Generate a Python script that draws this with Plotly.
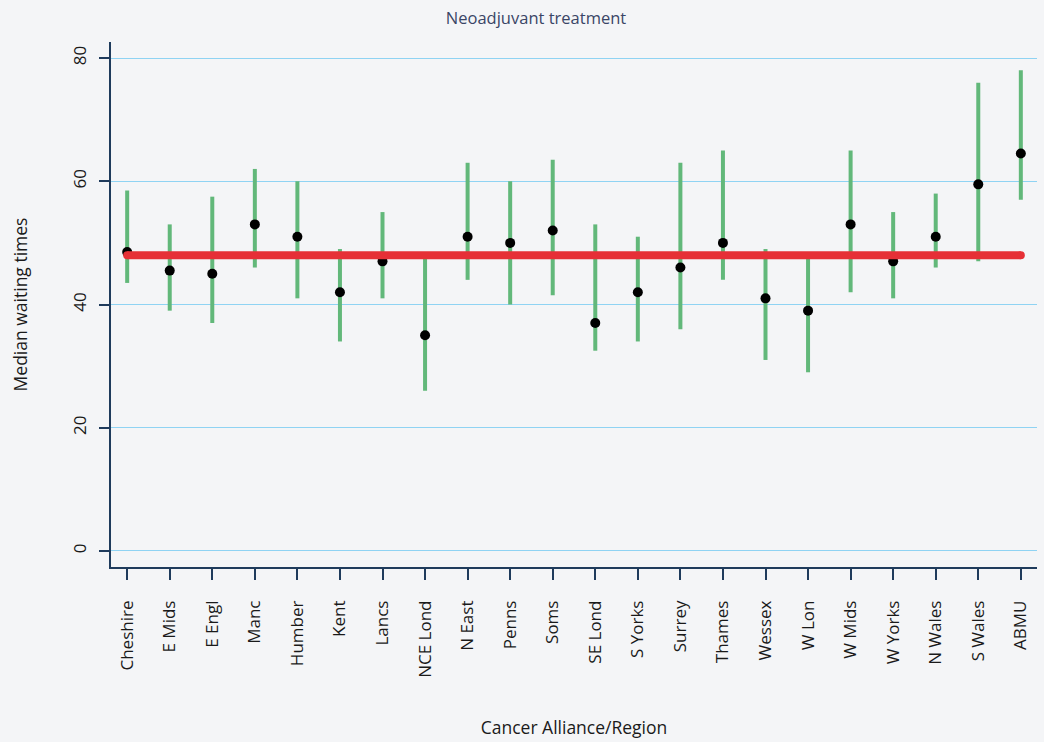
import plotly.graph_objects as go

categories = ["Cheshire", "E Mids", "E Engl", "Manc", "Humber", "Kent", "Lancs",
              "NCE Lond", "N East", "Penns", "Soms", "SE Lond", "S Yorks", "Surrey",
              "Thames", "Wessex", "W Lon", "W Mids", "W Yorks", "N Wales", "S Wales", "ABMU"]
median = [48.5, 45.5, 45, 53, 51, 42, 47, 35, 51, 50, 52, 37, 42, 46, 50, 41, 39, 53, 47, 51, 59.5, 64.5]
lower = [43.5, 39, 37, 46, 41, 34, 41, 26, 44, 40, 41.5, 32.5, 34, 36, 44, 31, 29, 42, 41, 46, 47, 57]
upper = [58.5, 53, 57.5, 62, 60, 49, 55, 48.5, 63, 60, 63.5, 53, 51, 63, 65, 49, 48.5, 65, 55, 58, 76, 78]
overall_median = 48
y_ticks = [0, 20, 40, 60, 80]

GREEN = "#62b87a"
RED = "#e63036"
AXIS = "#1f3b5c"
GRID = "#8fd3f3"
BG = "#f4f5f7"
FONT = "Open Sans"

fig = go.Figure()

fig.add_trace(go.Scatter(
    x=categories, y=median, mode="markers",
    marker=dict(color="black", size=10),
    error_y=dict(type="data", symmetric=False,
                 array=[u - m for u, m in zip(upper, median)],
                 arrayminus=[m - l for m, l in zip(median, lower)],
                 thickness=4, width=0, color=GREEN),
    showlegend=False, hoverinfo="skip",
))

fig.add_trace(go.Scatter(
    x=[categories[0], categories[-1]], y=[overall_median, overall_median],
    mode="lines+markers",
    line=dict(color=RED, width=8),
    marker=dict(color=RED, size=8),
    showlegend=False, hoverinfo="skip",
))

fig.update_layout(
    width=1044, height=742,
    paper_bgcolor=BG, plot_bgcolor=BG,
    margin=dict(l=111, r=7, t=42, b=175),
    font=dict(family=FONT, color="#1a1a1a", size=17),
    title=dict(text="Neoadjuvant treatment", x=536 / 1044, xanchor="center",
               y=1 - 18 / 742, yanchor="middle",
               font=dict(family=FONT, size=16.5, color="#3a4566")),
)

fig.update_xaxes(
    type="category", range=[-0.38, 21.38],
    showgrid=False, zeroline=False,
    showline=True, linecolor=AXIS, linewidth=1.5,
    ticks="outside", ticklen=11, tickcolor=AXIS, tickwidth=1.5,
    tickangle=-90, ticklabelstandoff=14,
    tickfont=dict(family=FONT, size=17, color="#1a1a1a"),
    title=dict(text="Cancer Alliance/Region", standoff=45,
               font=dict(family=FONT, size=17.5, color="#1a1a1a")),
)

fig.update_yaxes(
    range=[-2.6, 82.6],
    tickvals=y_ticks,
    showgrid=True, gridcolor=GRID, gridwidth=1.2,
    zeroline=False,
    showline=True, linecolor=AXIS, linewidth=1.5,
    ticks="outside", ticklen=10, tickcolor=AXIS, tickwidth=1.5,
    tickangle=-90, ticklabelstandoff=6,
    tickfont=dict(family=FONT, size=17, color="#1a1a1a"),
    title=dict(text="Median waiting times", standoff=36,
               font=dict(family=FONT, size=17.5, color="#1a1a1a")),
)

fig.write_html("out.html", config={"displayModeBar": False},
               post_script="document.body.style.margin='0';document.body.style.overflow='hidden';")
